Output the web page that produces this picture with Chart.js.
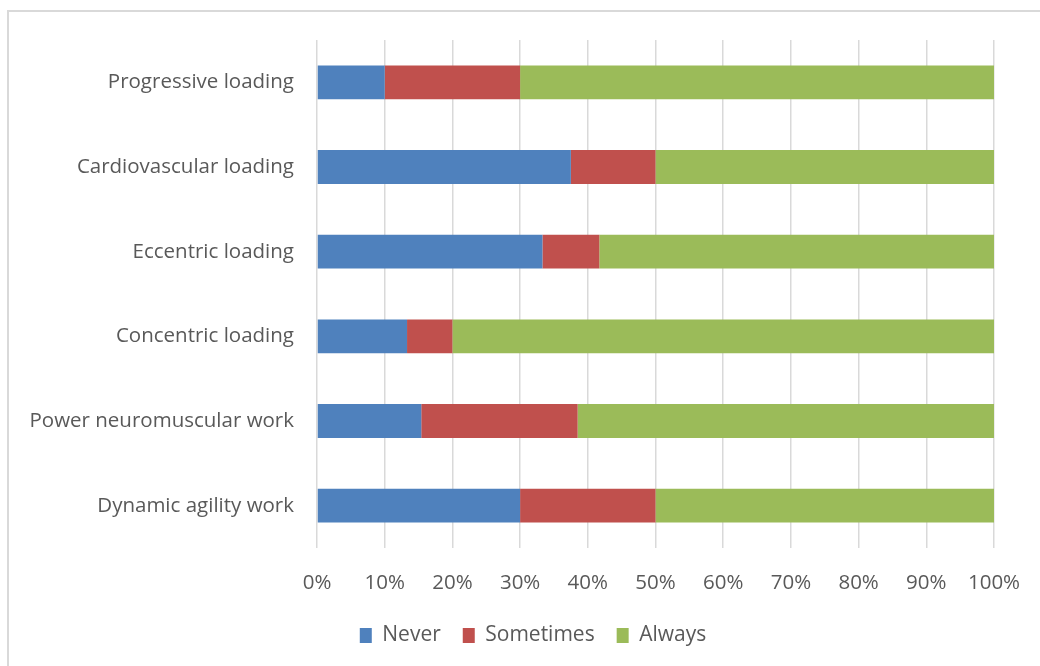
<!DOCTYPE html>
<html>
<head>
<meta charset="utf-8">
<script src="https://cdn.jsdelivr.net/npm/chart.js@4"></script>
<style>
  html, body { margin: 0; padding: 0; background: #fff; }
  #wrap { width: 1040px; height: 666px; position: relative; }
</style>
</head>
<body>
<div id="wrap"><canvas id="grafico" width="1040" height="666"></canvas></div>
<script>
// categorias (de cima para baixo)
var categorias = ['Progressive loading', 'Cardiovascular loading', 'Eccentric loading',
                  'Concentric loading', 'Power neuromuscular work', 'Dynamic agility work'];

// percentuais
var never     = [10, 37.5, 33.3, 13.3, 15.4, 30];
var sometimes = [20, 12.5, 8.4, 6.7, 23.1, 20];
var always    = [70, 50, 58.3, 80, 61.5, 50];

var ticksX = [0, 10, 20, 30, 40, 50, 60, 70, 80, 90, 100];

var fonte = "'Open Sans', sans-serif";
var corTexto = '#595959';

// moldura cinza (só em cima e à esquerda, como no original)
var moldura = {
    id: 'moldura',
    beforeDraw: function(chart) {
        var c = chart.ctx;
        c.save();
        c.fillStyle = '#fff';
        c.fillRect(0, 0, chart.width, chart.height);
        c.strokeStyle = '#d9d9d9';
        c.lineWidth = 2;
        c.beginPath();
        c.moveTo(8, chart.height);
        c.lineTo(8, 11);
        c.lineTo(chart.width, 11);
        c.stroke();
        c.restore();
    },
    // a legenda do original fica um pouco à direita do centro
    afterLayout: function(chart) {
        if (chart.legend) {
            chart.legend.left += 36;
            chart.legend.right += 36;
        }
    }
};

var ctx = document.getElementById('grafico').getContext('2d');

var config = {
    type: 'bar',
    data: {
        labels: categorias,
        datasets: [
            { label: 'Never', data: never, backgroundColor: '#4f81bd' },
            { label: 'Sometimes', data: sometimes, backgroundColor: '#c0504d' },
            { label: 'Always', data: always, backgroundColor: '#9bbb59' }
        ]
    },
    options: {
        indexAxis: 'y',
        responsive: false,
        animation: false,
        barPercentage: 0.4,
        categoryPercentage: 1,
        layout: { padding: { left: 0, top: 40, right: 46, bottom: 10 } },
        scales: {
            x: {
                stacked: true,
                min: 0,
                max: 100,
                afterBuildTicks: function(scale) {
                    scale.ticks = ticksX.map(function(v) { return { value: v }; });
                },
                afterFit: function(scale) {
                    scale.height = 55;
                    scale.paddingLeft = 0;
                    scale.paddingRight = 0;
                },
                grid: { color: '#d9d9d9', lineWidth: 1.5, drawTicks: false },
                border: { display: false },
                ticks: {
                    padding: 23,
                    color: corTexto,
                    font: { family: fonte, size: 20.5 },
                    callback: function(v) { return v + '%'; }
                }
            },
            y: {
                stacked: true,
                afterFit: function(scale) { scale.width = 317; },
                grid: { display: false, drawTicks: false },
                border: { display: false },
                ticks: {
                    padding: 23,
                    color: corTexto,
                    font: { family: fonte, size: 20.5 }
                }
            }
        },
        plugins: {
            legend: {
                position: 'bottom',
                labels: {
                    boxWidth: 12,
                    boxHeight: 15,
                    padding: 22,
                    color: corTexto,
                    font: { family: fonte, size: 21 }
                }
            },
            tooltip: { enabled: false }
        }
    },
    plugins: [moldura]
};

var myChart = new Chart(ctx, config);
</script>
</body>
</html>
